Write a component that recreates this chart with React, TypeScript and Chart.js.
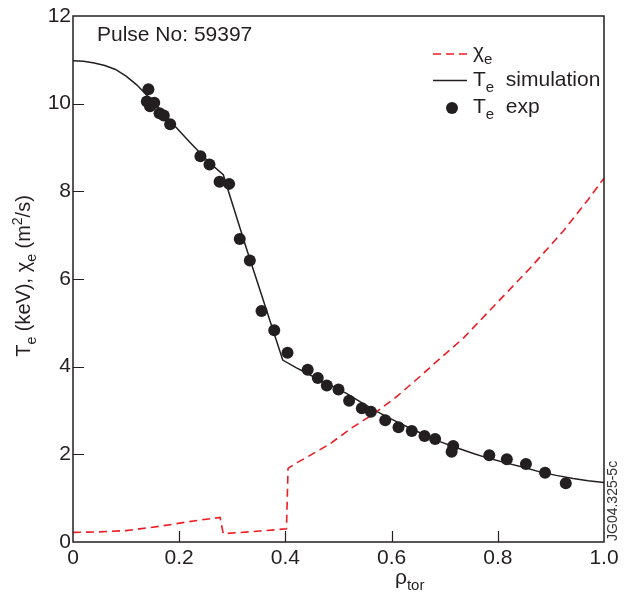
import React, { useEffect, useRef } from "react";
import { Chart, registerables } from "chart.js";

Chart.register(...registerables);

// ---- data ----
const rhoExp = [0.142, 0.139, 0.145, 0.153, 0.163, 0.171, 0.183, 0.240, 0.257, 0.276, 0.294, 0.314, 0.333, 0.355, 0.379, 0.404, 0.442, 0.461, 0.478, 0.500, 0.520, 0.544, 0.561, 0.588, 0.613, 0.638, 0.662, 0.682, 0.716, 0.713, 0.784, 0.817, 0.853, 0.889, 0.928];
const teExp = [10.33, 10.05, 9.94, 10.02, 9.78, 9.73, 9.53, 8.80, 8.61, 8.22, 8.17, 6.91, 6.42, 5.27, 4.83, 4.32, 3.93, 3.74, 3.57, 3.48, 3.22, 3.05, 2.97, 2.78, 2.62, 2.53, 2.42, 2.35, 2.19, 2.06, 1.98, 1.89, 1.78, 1.58, 1.34];

const rhoSim = [0, 0.02, 0.04, 0.06, 0.08, 0.1, 0.12, 0.14, 0.16, 0.18, 0.2, 0.22, 0.24, 0.26, 0.283, 0.326, 0.395, 0.42, 0.453, 0.48, 0.515, 0.545, 0.578, 0.61, 0.641, 0.691, 0.72, 0.754, 0.78, 0.817, 0.85, 0.879, 0.91, 0.942, 0.97, 1.0];
const teSim = [10.98, 10.97, 10.93, 10.87, 10.78, 10.63, 10.43, 10.18, 9.92, 9.65, 9.38, 9.12, 8.87, 8.62, 8.38, 6.72, 4.15, 3.98, 3.77, 3.6, 3.39, 3.17, 2.94, 2.74, 2.56, 2.29, 2.16, 2.02, 1.92, 1.80, 1.70, 1.60, 1.52, 1.45, 1.40, 1.36];

const rhoChi = [0, 0.05, 0.1, 0.164, 0.227, 0.277, 0.283, 0.352, 0.402, 0.405, 0.42, 0.44, 0.484, 0.522, 0.566, 0.61, 0.653, 0.685, 0.735, 0.798, 0.861, 0.923, 0.97, 1.0];
const chiE = [0.22, 0.23, 0.26, 0.36, 0.48, 0.56, 0.19, 0.25, 0.30, 1.68, 1.80, 1.93, 2.24, 2.58, 2.92, 3.32, 3.77, 4.12, 4.65, 5.45, 6.25, 7.09, 7.81, 8.3];

const xTicks = [0, 0.2, 0.4, 0.6, 0.8, 1.0];
const xTickLabels = ["0", "0.2", "0.4", "0.6", "0.8", "1.0"];
const yTicks = [0, 2, 4, 6, 8, 10, 12];
const yTickLabels = ["0", "2", "4", "6", "8", "10", "12"];

const FONT = '"Liberation Sans", Arial, Helvetica, sans-serif';
const INK = "#231f20";
const RED = "#ed1c24";

type Run = [string, "n" | "sub" | "sup"];

function runFont(kind: string, size: number) {
  const s = kind === "n" ? size : Math.round(size * 0.72);
  return `${s}px ${FONT}`;
}
function measureRuns(ctx: CanvasRenderingContext2D, runs: Run[], size: number) {
  let w = 0;
  for (const [t, k] of runs) {
    ctx.font = runFont(k, size);
    w += ctx.measureText(t).width;
  }
  return w;
}
function drawRuns(ctx: CanvasRenderingContext2D, runs: Run[], x: number, y: number, size: number) {
  let cx = x;
  ctx.textAlign = "left";
  ctx.textBaseline = "alphabetic";
  for (const [t, k] of runs) {
    ctx.font = runFont(k, size);
    const dy = k === "sub" ? size * 0.3 : k === "sup" ? -size * 0.42 : 0;
    ctx.fillText(t, cx, y + dy);
    cx += ctx.measureText(t).width;
  }
  return cx - x;
}

const decorPlugin = {
  id: "decor",
  afterDraw(chart: any) {
    const ctx: CanvasRenderingContext2D = chart.ctx;
    const { left, right, top, bottom } = chart.chartArea;
    const xs = chart.scales.x;
    const ys = chart.scales.y;
    ctx.save();
    // box
    ctx.strokeStyle = INK;
    ctx.lineWidth = 1.5;
    ctx.setLineDash([]);
    ctx.strokeRect(left, top, right - left, bottom - top);
    // inner ticks
    ctx.lineWidth = 1.2;
    ctx.beginPath();
    for (const v of xTicks) {
      if (v === 0 || v === 1) continue;
      const px = Math.round(xs.getPixelForValue(v)) + 0.5;
      ctx.moveTo(px, bottom);
      ctx.lineTo(px, bottom - 11);
    }
    for (const v of yTicks) {
      if (v === 0 || v === 12) continue;
      const py = Math.round(ys.getPixelForValue(v)) + 0.5;
      ctx.moveTo(left, py);
      ctx.lineTo(left + 11, py);
    }
    ctx.stroke();

    ctx.fillStyle = INK;
    // pulse label
    ctx.font = `21px ${FONT}`;
    ctx.textAlign = "left";
    ctx.textBaseline = "alphabetic";
    ctx.fillText("Pulse No: 59397", 97, 41);

    // legend
    const lx0 = 433, lx1 = 467, tx = 473;
    ctx.strokeStyle = RED;
    ctx.lineWidth = 1.6;
    ctx.setLineDash([8, 5]);
    ctx.beginPath();
    ctx.moveTo(lx0, 54);
    ctx.lineTo(lx1, 54);
    ctx.stroke();
    ctx.setLineDash([]);
    ctx.strokeStyle = INK;
    ctx.lineWidth = 1.5;
    ctx.beginPath();
    ctx.moveTo(lx0, 80.5);
    ctx.lineTo(lx1, 80.5);
    ctx.stroke();
    ctx.beginPath();
    ctx.arc(452, 108, 6, 0, Math.PI * 2);
    ctx.fill();
    drawRuns(ctx, [["χ", "n"], ["e", "sub"]], tx, 58, 21);
    drawRuns(ctx, [["T", "n"], ["e", "sub"], ["  simulation", "n"]], tx, 86, 21);
    drawRuns(ctx, [["T", "n"], ["e", "sub"], ["  exp", "n"]], tx, 113, 21);

    // x title
    drawRuns(ctx, [["ρ", "n"], ["tor", "sub"]], 395, 584, 21);

    // y title
    const yRuns: Run[] = [["T", "n"], ["e", "sub"], [" (keV), ", "n"], ["χ", "n"], ["e", "sub"], [" (m", "n"], ["2", "sup"], ["/s)", "n"]];
    const w = measureRuns(ctx, yRuns, 20);
    ctx.save();
    ctx.translate(30, 276);
    ctx.rotate(-Math.PI / 2);
    drawRuns(ctx, yRuns, -w / 2, 0, 20);
    ctx.restore();

    // side code
    ctx.save();
    ctx.fillStyle = "#333";
    ctx.font = `14px ${FONT}`;
    ctx.translate(617, 541);
    ctx.rotate(-Math.PI / 2);
    ctx.textAlign = "left";
    ctx.fillText("JG04.325-5c", 0, 0);
    ctx.restore();

    ctx.restore();
  },
};

export default function App() {
  const ref = useRef<HTMLCanvasElement | null>(null);
  useEffect(() => {
    document.body.style.margin = "0";
    const canvas = ref.current!;
    const chart = new Chart(canvas, {
      type: "line",
      data: {
        datasets: [
          {
            type: "scatter",
            label: "Te exp",
            data: rhoExp.map((x, i) => ({ x, y: teExp[i] })),
            backgroundColor: INK,
            borderWidth: 0,
            pointRadius: 6,
            pointHoverRadius: 6,
            showLine: false,
          } as any,
          {
            label: "chi_e",
            data: rhoChi.map((x, i) => ({ x, y: chiE[i] })),
            borderColor: RED,
            borderWidth: 1.6,
            borderDash: [8, 5],
            pointRadius: 0,
            tension: 0,
            fill: false,
          },
          {
            label: "Te simulation",
            data: rhoSim.map((x, i) => ({ x, y: teSim[i] })),
            borderColor: INK,
            borderWidth: 1.5,
            pointRadius: 0,
            tension: 0,
            fill: false,
          },
        ],
      },
      options: {
        responsive: false,
        animation: false,
        devicePixelRatio: 1,
        layout: { padding: { left: 0, top: 16, right: 25, bottom: 0 } },
        plugins: { legend: { display: false }, tooltip: { enabled: false } },
        scales: {
          x: {
            type: "linear",
            min: 0,
            max: 1,
            afterBuildTicks: (s: any) => {
              s.ticks = xTicks.map((v) => ({ value: v }));
            },
            afterFit: (s: any) => {
              s.height = 55;
            },
            ticks: {
              autoSkip: false,
              maxRotation: 0,
              padding: 4,
              color: INK,
              font: { size: 21, family: FONT },
              callback: (v: any) => {
                const i = xTicks.findIndex((t) => Math.abs(t - Number(v)) < 1e-9);
                return i >= 0 ? xTickLabels[i] : "";
              },
            },
            grid: { display: false, drawTicks: false },
            border: { display: false },
          },
          y: {
            type: "linear",
            min: 0,
            max: 12,
            afterBuildTicks: (s: any) => {
              s.ticks = yTicks.map((v) => ({ value: v }));
            },
            afterFit: (s: any) => {
              s.width = 73;
            },
            ticks: {
              autoSkip: false,
              padding: 2,
              color: INK,
              font: { size: 21, family: FONT },
              callback: (v: any) => {
                const i = yTicks.findIndex((t) => Math.abs(t - Number(v)) < 1e-9);
                return i >= 0 ? yTickLabels[i] : "";
              },
            },
            grid: { display: false, drawTicks: false },
            border: { display: false },
          },
        },
      } as any,
      plugins: [decorPlugin],
    });
    return () => chart.destroy();
  }, []);
  return (
    <div style={{ position: "absolute", left: 0, top: 0, width: 629, height: 597, background: "#fff" }}>
      <canvas ref={ref} width={629} height={597} style={{ display: "block", width: 629, height: 597 }} />
    </div>
  );
}
